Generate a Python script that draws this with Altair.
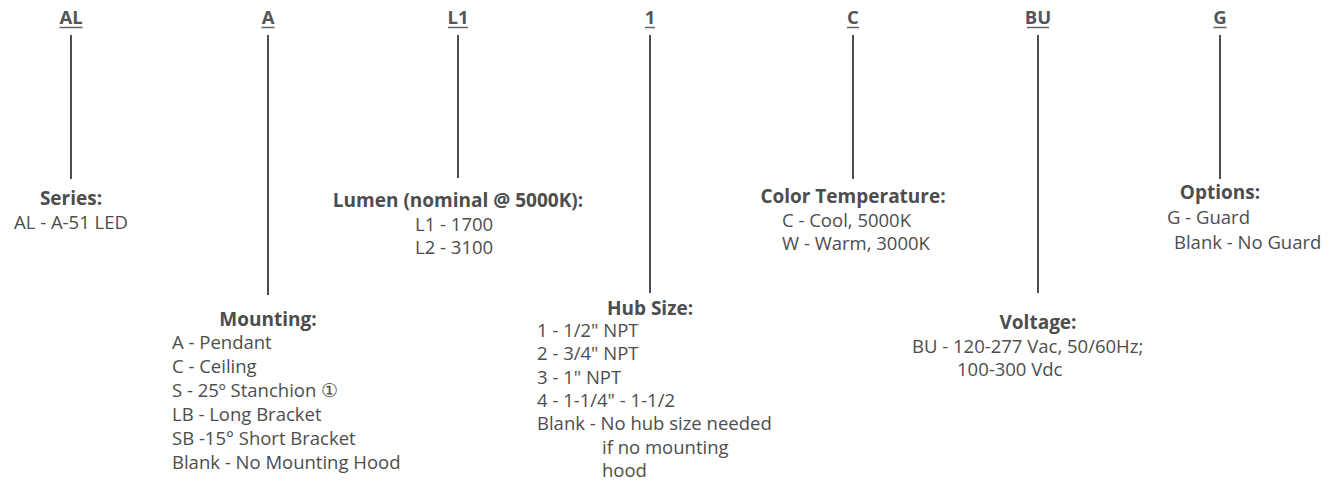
import altair as alt
import pandas as pd

# ---- content ----
codes = ["AL", "A", "L1", "1", "C", "BU", "G"]
titles = ["Series:", "Mounting:", "Lumen (nominal @ 5000K):", "Hub Size:",
          "Color Temperature:", "Voltage:", "Options:"]
series_items = ["AL - A-51 LED"]
mounting_items = ["A - Pendant", "C -  Ceiling", "S - 25º Stanchion ①", "LB - Long Bracket",
                  "SB -15° Short Bracket", "Blank - No Mounting Hood"]
lumen_items = ["L1 - 1700", "L2 - 3100"]
hub_items = ['1 - 1/2" NPT', '2 - 3/4" NPT', '3 - 1" NPT', '4 - 1-1/4" - 1-1/2',
             "Blank - No hub size needed", "if no mounting", "hood"]
color_items = ["C - Cool, 5000K", "W - Warm, 3000K"]
voltage_items = ["BU - 120-277 Vac, 50/60Hz;", "100-300 Vdc"]
options_items = ["G - Guard", "Blank - No Guard"]
all_items = [series_items, mounting_items, lumen_items, hub_items,
             color_items, voltage_items, options_items]

# ---- layout (page pixels) ----
code_x = [71, 268, 458, 650, 853, 1038, 1220]
code_y = 18
underline_half = [11.5, 6.5, 10, 5, 6, 11, 6.5]
underline_y = 27.5
line_top = 35
line_bottom = [179, 295, 178, 293, 179, 293, 179]
title_y = [198.5, 320, 201, 309, 197, 323, 193]
item_x = [[14], [172] * 6, [415, 415], [537] * 5 + [602, 602],
          [782, 782], [912, 957], [1167, 1174]]
item_first_y = [223, 343, 225, 331, 221, 347, 218]
item_step = [22, 24, 23, 23.3, 23, 22.5, 24.5]

codes_df = pd.DataFrame({"code": codes, "x": code_x, "y": code_y,
                         "ux1": [c - h for c, h in zip(code_x, underline_half)],
                         "ux2": [c + h for c, h in zip(code_x, underline_half)],
                         "uy": underline_y, "y1": line_top, "y2": line_bottom})
titles_df = pd.DataFrame({"t": titles, "x": code_x, "y": title_y})
rows = []
for items, xs, fy, st in zip(all_items, item_x, item_first_y, item_step):
    for i, (t, xx) in enumerate(zip(items, xs)):
        rows.append({"t": t, "x": xx, "y": fy + i * st})
items_df = pd.DataFrame(rows)

TOP = 10
X = lambda f: alt.X(f, type="quantitative", axis=None,
                    scale=alt.Scale(domain=[8, 1328], nice=False, zero=False))
Y = lambda f: alt.Y(f, type="quantitative", axis=None,
                    scale=alt.Scale(domain=[8 + TOP, 478], nice=False, zero=False, reverse=True))

TXT = "#4d4d4d"
FONT = "Open Sans"

code_text = alt.Chart(codes_df).mark_text(
    font=FONT, fontSize=18.5, fontWeight="bold", color="#555555", baseline="middle", align="center"
).encode(x=X("x"), y=Y("y"), text="code:N")
underline = alt.Chart(codes_df).mark_rule(color="#666666", strokeWidth=1.5).encode(
    x=X("ux1"), x2="ux2", y=Y("uy"))
leader = alt.Chart(codes_df).mark_rule(color="#111111", strokeWidth=1.5).encode(
    x=X("x"), y=Y("y1"), y2="y2")
title_text = alt.Chart(titles_df).mark_text(
    font=FONT, fontSize=19, fontWeight="bold", color=TXT, baseline="middle", align="center"
).encode(x=X("x"), y=Y("y"), text="t:N")
item_text = alt.Chart(items_df).mark_text(
    font=FONT, fontSize=18.5, color=TXT, baseline="middle", align="left"
).encode(x=X("x"), y=Y("y"), text="t:N")

chart = alt.layer(leader, underline, code_text, title_text, item_text).properties(
    width=1320, height=470 - TOP, padding={"left": 0, "right": 0, "top": TOP, "bottom": 0},
    autosize="none"
).configure_view(stroke=None)

chart.save("out.html", embed_options={"renderer": "svg", "actions": False})
